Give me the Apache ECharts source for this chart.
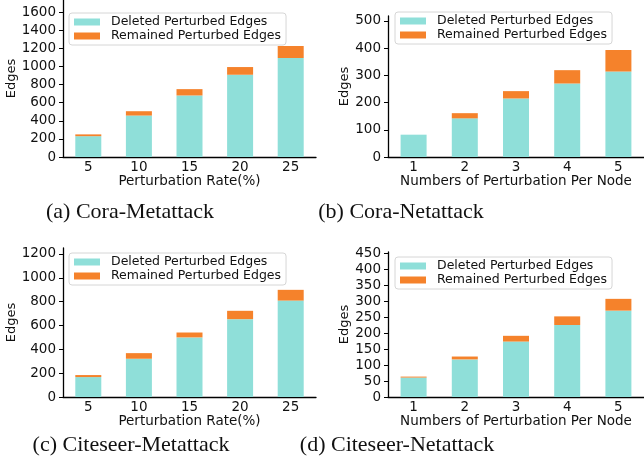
<!DOCTYPE html>
<html>
<head>
<meta charset="utf-8">
<script src="https://cdn.jsdelivr.net/npm/echarts@6/dist/echarts.min.js"></script>
<style>
html,body{margin:0;padding:0;background:#fff;}
#chart{width:644px;height:467px;}
</style>
</head>
<body>
<div id="chart"></div>
<script>
// ---- data ----
const rateCats = ['5', '10', '15', '20', '25'];
const nodeCats = ['1', '2', '3', '4', '5'];
const seriesNames = ['Deleted Perturbed Edges', 'Remained Perturbed Edges'];

const coraMetaDeleted  = [230, 458, 680, 909, 1094];
const coraMetaRemained = [20, 48, 70, 85, 133];
const coraNetDeleted   = [82, 142, 215, 270, 314];
const coraNetRemained  = [0, 19, 27, 49, 79];
const citeMetaDeleted  = [167, 321, 500, 653, 809];
const citeMetaRemained = [17, 47, 41, 70, 90];
const citeNetDeleted   = [61, 118, 174, 226, 271];
const citeNetRemained  = [3, 9, 18, 27, 37];

const ticksA = [0, 200, 400, 600, 800, 1000, 1200, 1400, 1600];
const ticksB = [0, 100, 200, 300, 400, 500];
const ticksC = [0, 200, 400, 600, 800, 1000, 1200];
const ticksD = [0, 50, 100, 150, 200, 250, 300, 350, 400, 450];

const captions = ['(a) Cora-Metattack', '(b) Cora-Netattack', '(c) Citeseer-Metattack', '(d) Citeseer-Netattack'];
const xNames = ['Perturbation Rate(%)', 'Numbers of Perturbation Per Node'];

// ---- style ----
const TEAL = '#8FDFD9';
const ORANGE = '#F5822B';
const FONT = 'DejaVu Sans';

const panels = [
  {cats: rateCats, del: coraMetaDeleted, rem: coraMetaRemained, ticks: ticksA, max: 1735, xName: xNames[0],
   grid: {left: 63, top: 0, right: 328, bottom: 310}, nameGapY: 42, legend: {left: 69, top: 13}},
  {cats: nodeCats, del: coraNetDeleted, rem: coraNetRemained, ticks: ticksB, max: 518, xName: xNames[1],
   grid: {left: 388, top: 16, right: -9, bottom: 310}, nameGapY: 34, legend: {left: 395, top: 12}},
  {cats: rateCats, del: citeMetaDeleted, rem: citeMetaRemained, ticks: ticksC, max: 1250, xName: xNames[0],
   grid: {left: 63, top: 248, right: 328, bottom: 70}, nameGapY: 42, legend: {left: 69, top: 253}},
  {cats: nodeCats, del: citeNetDeleted, rem: citeNetRemained, ticks: ticksD, max: 455, xName: xNames[1],
   grid: {left: 388, top: 252, right: -9, bottom: 70}, nameGapY: 35, legend: {left: 395, top: 257}}
];

const captionPos = [[130, 212], [401, 212], [131, 445], [397, 445]];

const option = {
  animation: false,
  backgroundColor: '#fff',
  grid: [], xAxis: [], yAxis: [], series: [], legend: [], graphic: []
};

panels.forEach((p, i) => {
  option.grid.push(Object.assign({containLabel: false}, p.grid));
  option.xAxis.push({
    type: 'category', gridIndex: i, data: p.cats, boundaryGap: true,
    name: p.xName, nameLocation: 'middle', nameGap: 14,
    nameTextStyle: {fontFamily: FONT, fontSize: 13.5, color: '#111'},
    axisLine: {lineStyle: {color: '#000', width: 1.3}},
    axisTick: {alignWithLabel: true, length: 4, lineStyle: {color: '#000', width: 1}},
    axisLabel: {fontFamily: FONT, fontSize: 13.5, color: '#111', margin: 3},
    splitLine: {show: false}
  });
  option.yAxis.push({
    type: 'value', gridIndex: i, min: 0, max: p.max,
    name: 'Edges', nameLocation: 'middle', nameGap: p.nameGapY,
    nameTextStyle: {fontFamily: FONT, fontSize: 13, color: '#111'},
    axisLine: {show: true, lineStyle: {color: '#000', width: 1.3}},
    axisTick: {show: true, length: 4, customValues: p.ticks, lineStyle: {color: '#000', width: 1}},
    axisLabel: {fontFamily: FONT, fontSize: 13.5, color: '#111', margin: 7, customValues: p.ticks,
                formatter: v => String(v)},
    splitLine: {show: false}
  });
  option.series.push({
    name: seriesNames[0], type: 'bar', stack: 's' + i, xAxisIndex: i, yAxisIndex: i,
    data: p.del, barWidth: 26,
    itemStyle: {color: TEAL}
  });
  option.series.push({
    name: seriesNames[1], type: 'bar', stack: 's' + i, xAxisIndex: i, yAxisIndex: i,
    data: p.rem, barWidth: 26,
    itemStyle: {color: ORANGE}
  });
  option.legend.push({
    left: p.legend.left, top: p.legend.top, orient: 'vertical',
    data: seriesNames.map(n => ({name: n, icon: 'rect'})),
    itemWidth: 26, itemHeight: 7, itemGap: 0,
    padding: [2, 5, 2, 5],
    borderColor: '#d6d6d6', borderWidth: 1, borderRadius: 3,
    backgroundColor: 'rgba(255,255,255,0.85)',
    textStyle: {fontFamily: FONT, fontSize: 12.5, color: '#111', padding: [0, 0, 0, 6], lineHeight: 14},
    selectedMode: false
  });
  option.graphic.push({
    type: 'text', x: captionPos[i][0], y: captionPos[i][1],
    style: {text: captions[i], fontFamily: 'Liberation Serif', fontSize: 22, fill: '#111',
            textAlign: 'center', textVerticalAlign: 'middle'}
  });
});

const chart = echarts.init(document.getElementById('chart'), null, {renderer: 'canvas'});
chart.setOption(option);
</script>
</body>
</html>
